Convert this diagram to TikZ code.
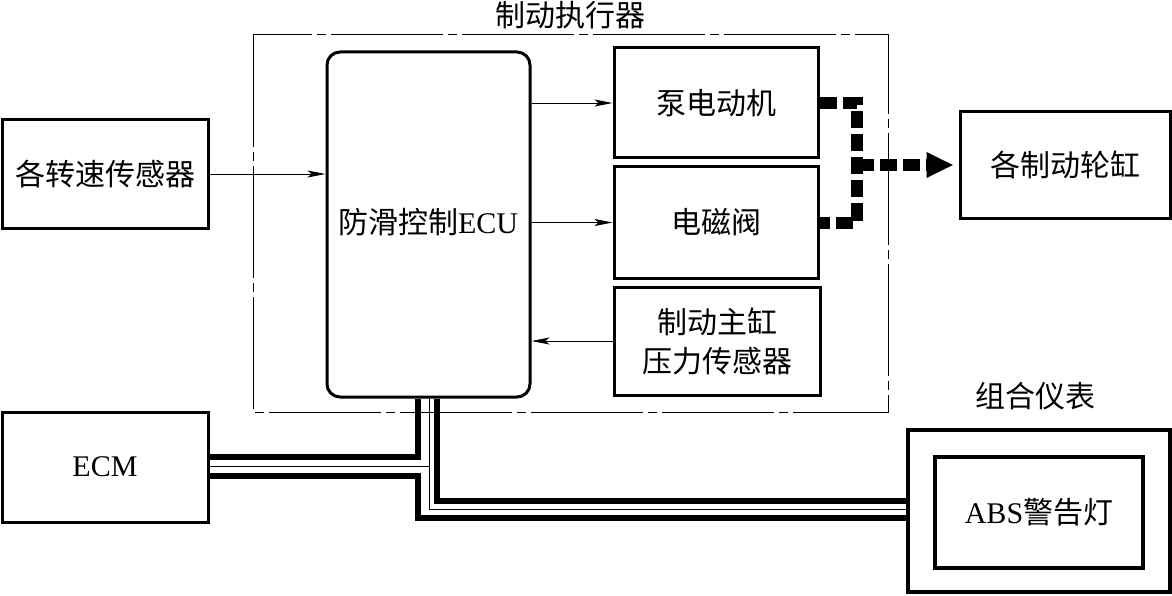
\documentclass[tikz,border=0pt]{standalone}
\usepackage{fontspec}
\setmainfont{Liberation Serif}
\newfontfamily\cjk{Noto Sans CJK SC}
\usetikzlibrary{arrows.meta}
\begin{document}
\begin{tikzpicture}[x=1pt,y=-1pt,
  txt/.style={font=\fontsize{30}{39}\selectfont},
  box/.style={draw,line width=3pt,txt,align=center,inner sep=0pt},
  thinarrow/.style={line width=0.9pt,-{Stealth[length=18pt,width=7pt,inset=4pt]}},
  bus/.style={line width=5.5pt},
  wire/.style={line width=1pt},
  heavydash/.style={line width=12pt,dash pattern=on 17pt off 6pt},
  frameline/.style={line width=1pt,dash pattern=on 112pt off 5pt on 9pt off 5pt}
]
\useasboundingbox (0,0) rectangle (1172,596);

% frame of brake actuator
\draw[frameline] (253,35) rectangle (888,412);
\node[txt,inner sep=0pt] (ttl) at (570,15) {\cjk 制动执行器};

% nodes
\node[box,minimum width=206pt,minimum height=108pt] (sens) at (105,174) {\cjk 各转速传感器};
\node[box,rounded corners=13pt,minimum width=203pt,minimum height=345pt] (ecu) at (428.5,224.5) {};
\node[txt] (ecut) at (428,222) {{\cjk 防滑控制}ECU};
\node[box,minimum width=204pt,minimum height=110pt] (pump) at (716,103) {\cjk 泵电动机};
\node[box,minimum width=204pt,minimum height=111pt] (valve) at (716,222.5) {\cjk 电磁阀};
\node[box,minimum width=206pt,minimum height=108pt] (psens) at (717,341) {\cjk 制动主缸\\\cjk 压力传感器};
\node[box,minimum width=210pt,minimum height=106pt] (cyl) at (1065,165) {\cjk 各制动轮缸};
\node[box,minimum width=206pt,minimum height=110pt] (ecm) at (105,467) {ECM};
\node[txt] (combt) at (1035,396) {\cjk 组合仪表};
\node[box,line width=3.5pt,minimum width=262pt,minimum height=162pt] (absout) at (1039,511) {};
\node[box,line width=3.5pt,minimum width=208pt,minimum height=111pt] (absin) at (1039,512.5) {ABS{\cjk 警告灯}};

% signal arrows
\draw[thinarrow] (sens.east) -- (ecu.west |- sens.east);
\draw[thinarrow] (ecu.east |- pump.west) -- (pump.west);
\draw[thinarrow] (ecu.east |- valve.west) -- (valve.west);
\draw[thinarrow] (psens.west) -- (ecu.east |- psens.west);

% hydraulic lines
\coordinate (j) at (857,165);
\draw[heavydash] (pump.east) -- (pump.east -| j) -- (valve.east -| j) -- (valve.east);
\draw[heavydash,-{Triangle[length=27pt,width=24pt]},shorten >=5pt] (j) -- (cyl.west);

% bus wiring
\coordinate (b1) at ([xshift=-10.5pt]ecu.south);
\coordinate (b2) at ([xshift=0.5pt]ecu.south);
\coordinate (b3) at ([xshift=8.5pt]ecu.south);
\draw[bus] (b1) |- (ecm.east |- 0,457);
\draw[wire] (b2) |- (absout.west |- 0,509.5);
\draw[wire] (b2 |- 0,466.5) -- (ecm.east |- 0,466.5);
\draw[bus] (b3) |- (absout.west |- 0,501);
\draw[bus] (ecm.east |- 0,476) -| (b1 |- 0,518) -- (absout.west |- 0,518);
\end{tikzpicture}
\end{document}
